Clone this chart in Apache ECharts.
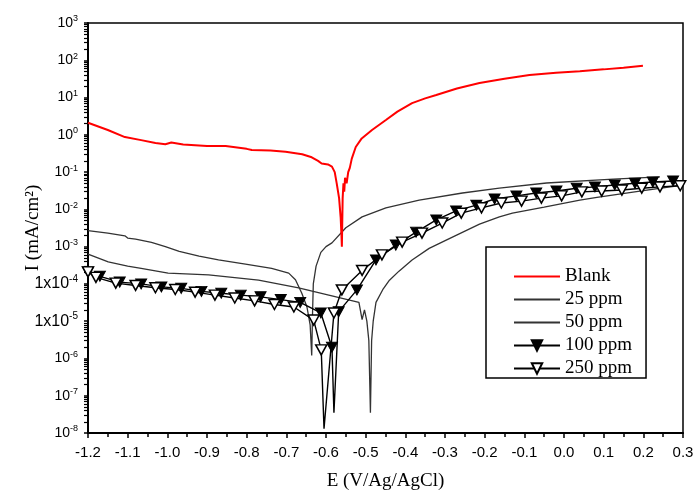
<!DOCTYPE html>
<html>
<head>
<meta charset="utf-8">
<script src="https://cdn.jsdelivr.net/npm/echarts@6/dist/echarts.min.js"></script>
<style>
html,body{margin:0;padding:0;background:#fff;}
#chart{width:695px;height:491px;}
</style>
</head>
<body>
<div id="chart"></div>
<script>
// ---- data (E in V vs Ag/AgCl, I in mA/cm2) ----
const seriesNames = ['Blank', '25 ppm', '50 ppm', '100 ppm', '250 ppm'];
const xTicks = [-1.2, -1.1, -1.0, -0.9, -0.8, -0.7, -0.6, -0.5, -0.4, -0.3, -0.2, -0.1, 0.0, 0.1, 0.2, 0.3];

const blank = [
  [-1.2, 2.1], [-1.15, 1.35], [-1.107, 0.87], [-1.066, 0.72], [-1.03, 0.6], [-1.005, 0.56], [-0.99, 0.62],
  [-0.96, 0.55], [-0.9, 0.5], [-0.853, 0.5], [-0.8, 0.42], [-0.787, 0.39], [-0.74, 0.38], [-0.702, 0.35],
  [-0.66, 0.3], [-0.636, 0.25], [-0.62, 0.2], [-0.611, 0.17], [-0.595, 0.16], [-0.585, 0.14], [-0.578, 0.1],
  [-0.573, 0.05], [-0.567, 0.02], [-0.563, 0.006], [-0.561, 0.002], [-0.56, 0.001], [-0.558, 0.02],
  [-0.556, 0.05], [-0.554, 0.03], [-0.552, 0.07], [-0.548, 0.05], [-0.544, 0.1], [-0.54, 0.13],
  [-0.535, 0.23], [-0.525, 0.47], [-0.51, 0.8], [-0.484, 1.35], [-0.449, 2.5], [-0.42, 4.2], [-0.383, 7.1],
  [-0.35, 9.5], [-0.322, 11.7], [-0.27, 17.5], [-0.213, 24.5], [-0.15, 32], [-0.087, 40], [-0.02, 46],
  [0.04, 51], [0.1, 57], [0.15, 63], [0.199, 71]
];

const ppm25 = [
  [-1.2, 2.7e-3], [-1.15, 2.3e-3], [-1.107, 1.95e-3], [-1.1, 1.7e-3], [-1.08, 1.6e-3], [-1.04, 1.3e-3],
  [-1.005, 1.0e-3], [-0.97, 7.5e-4], [-0.92, 5.6e-4], [-0.871, 4.4e-4], [-0.803, 3.4e-4], [-0.737, 2.6e-4],
  [-0.694, 1.95e-4], [-0.677, 1.3e-4], [-0.661, 5.6e-5], [-0.648, 2.4e-5], [-0.64, 8e-6], [-0.636, 1.2e-6],
  [-0.634, 1.5e-5], [-0.632, 1e-4], [-0.625, 3e-4], [-0.613, 7e-4], [-0.6, 1e-3], [-0.585, 1.26e-3],
  [-0.55, 3.2e-3], [-0.509, 6.3e-3], [-0.449, 1.1e-2], [-0.365, 1.78e-2], [-0.256, 2.75e-2],
  [-0.163, 3.7e-2], [-0.044, 5.1e-2], [0.124, 6.5e-2], [0.242, 7.4e-2]
];

const ppm50 = [
  [-1.2, 6.3e-4], [-1.149, 3.9e-4], [-1.1, 3.0e-4], [-1.066, 2.6e-4], [-0.998, 1.95e-4], [-0.896, 1.74e-4],
  [-0.77, 1.26e-4], [-0.669, 7.8e-5], [-0.593, 5e-5], [-0.517, 3.2e-5], [-0.512, 3e-5], [-0.509, 1.1e-5],
  [-0.503, 2e-5], [-0.497, 1e-5], [-0.492, 3e-6], [-0.488, 3.5e-8], [-0.485, 3e-6], [-0.481, 1e-5],
  [-0.474, 3.2e-5], [-0.457, 7e-5], [-0.44, 1.26e-4], [-0.416, 2.2e-4], [-0.383, 4.4e-4], [-0.34, 9e-4],
  [-0.297, 1.5e-3], [-0.213, 4e-3], [-0.163, 6.3e-3], [-0.13, 7.9e-3], [-0.05, 1.15e-2], [0.04, 1.78e-2],
  [0.083, 2.1e-2], [0.2, 3.2e-2], [0.3, 4.5e-2]
];

const ppm100 = [
  [-1.2, 2.1e-4], [-1.17, 1.6e-4], [-1.12, 1.12e-4], [-1.066, 1.0e-4], [-1.015, 8.3e-5], [-0.965, 7.6e-5],
  [-0.914, 6.3e-5], [-0.864, 5.6e-5], [-0.815, 5e-5], [-0.765, 4.5e-5], [-0.714, 3.8e-5], [-0.665, 3.2e-5],
  [-0.613, 1.66e-5], [-0.585, 2e-6], [-0.58, 3.5e-8], [-0.568, 1.8e-5], [-0.522, 6.9e-5], [-0.474, 4.4e-4],
  [-0.424, 1.1e-3], [-0.373, 2.45e-3], [-0.322, 5.2e-3], [-0.272, 9.1e-3], [-0.221, 1.3e-2], [-0.175, 1.9e-2],
  [-0.12, 2.3e-2], [-0.07, 2.75e-2], [-0.019, 3.1e-2], [0.032, 3.7e-2], [0.078, 4e-2], [0.128, 4.5e-2],
  [0.179, 5e-2], [0.224, 5.4e-2], [0.275, 5.75e-2]
];

const ppm250 = [
  [-1.2, 2.1e-4], [-1.18, 1.5e-4], [-1.13, 1.05e-4], [-1.08, 9.1e-5], [-1.03, 7.9e-5], [-0.98, 7.1e-5],
  [-0.93, 6e-5], [-0.88, 5e-5], [-0.83, 4.2e-5], [-0.78, 3.5e-5], [-0.73, 2.8e-5], [-0.681, 2.4e-5],
  [-0.631, 1.07e-5], [-0.612, 1.7e-6], [-0.605, 1.3e-8], [-0.58, 1.66e-5], [-0.56, 6.9e-5], [-0.509, 2.3e-4],
  [-0.459, 6e-4], [-0.408, 1.32e-3], [-0.358, 2.3e-3], [-0.307, 4.3e-3], [-0.259, 7.9e-3], [-0.208, 1.1e-2],
  [-0.158, 1.48e-2], [-0.107, 1.66e-2], [-0.057, 2e-2], [-0.006, 2.3e-2], [0.045, 2.95e-2], [0.095, 3.1e-2],
  [0.146, 3.3e-2], [0.196, 3.7e-2], [0.242, 4e-2], [0.293, 4.3e-2]
];

// ---- chart ----
const serif = '"Liberation Serif", "Times New Roman", serif';
const sans = '"Liberation Sans", Arial, sans-serif';
const downTri = 'path://M0,0 L10,0 L5,9 Z';

// the deepest point of each spike carries no marker
function withMarkers(arr) {
  return arr.map(p => (p[1] < 1e-7 ? {value: p, symbol: 'none'} : p));
}

function yLabel(v) {
  const e = Math.round(Math.log10(v));
  if (e === -4 || e === -5) return '{bb|1x10}{ss|' + e + '}';
  return '{b|10}{s|' + e + '}';
}

const hidden = {color: 'rgba(0,0,0,0)', borderColor: 'rgba(0,0,0,0)', borderWidth: 0};

const chart = echarts.init(document.getElementById('chart'), null, {renderer: 'canvas'});

chart.setOption({
  animation: false,
  backgroundColor: '#fff',
  grid: {
    left: 88, right: 12, top: 23, bottom: 58,
    outerBoundsMode: 'none', containLabel: false,
    show: true, borderColor: '#000', borderWidth: 1.5, backgroundColor: 'transparent'
  },
  legend: {
    orient: 'vertical',
    left: 486, top: 247,
    padding: [20, 14, 0, 27],
    itemGap: 4,
    itemWidth: 46, itemHeight: 13,
    borderColor: '#000', borderWidth: 1.5,
    backgroundColor: '#fff',
    textStyle: {fontFamily: serif, fontSize: 19, color: '#000'},
    data: [
      {name: seriesNames[0], itemStyle: hidden},
      {name: seriesNames[1], itemStyle: hidden},
      {name: seriesNames[2], itemStyle: hidden},
      {name: seriesNames[3]},
      {name: seriesNames[4]}
    ]
  },
  xAxis: {
    type: 'value',
    min: -1.2, max: 0.3, interval: 0.1,
    name: 'E (V/Ag/AgCl)',
    nameLocation: 'middle', nameGap: 39, nameMoveOverlap: false,
    nameTextStyle: {fontFamily: serif, fontSize: 19, color: '#000'},
    axisLine: {onZero: false, lineStyle: {color: '#000', width: 2}},
    axisTick: {inside: false, length: 5, lineStyle: {color: '#000', width: 1.5}},
    minorTick: {show: true, splitNumber: 2, length: 4, lineStyle: {color: '#000', width: 1.5}},
    splitLine: {show: false},
    axisLabel: {
      margin: 12, fontFamily: sans, fontSize: 15, color: '#000',
      formatter: v => (Math.abs(v) < 1e-9 ? 0 : v).toFixed(1)
    }
  },
  yAxis: {
    type: 'log', logBase: 10,
    min: 1e-8, max: 1e3, interval: 1,
    name: 'I (mA/cm²)',
    nameLocation: 'middle', nameGap: 45, nameMoveOverlap: false,
    nameTextStyle: {fontFamily: serif, fontSize: 19, color: '#000'},
    axisLine: {onZero: false, lineStyle: {color: '#000', width: 2}},
    axisTick: {inside: false, length: 4, lineStyle: {color: '#000', width: 1.5}},
    minorTick: {show: true, splitNumber: 9, length: 4, lineStyle: {color: '#000', width: 1.2}},
    splitLine: {show: false},
    axisLabel: {
      margin: 10, color: '#000',
      formatter: yLabel,
      rich: {
        b: {fontFamily: sans, fontSize: 14, color: '#000'},
        s: {fontFamily: sans, fontSize: 9, color: '#000', padding: [0, 0, 8, 0]},
        bb: {fontFamily: sans, fontSize: 16, color: '#000'},
        ss: {fontFamily: sans, fontSize: 10, color: '#000', padding: [0, 0, 9, 0]}
      }
    }
  },
  series: [
    {
      name: seriesNames[0], type: 'line', data: blank, symbol: 'none',
      lineStyle: {color: '#ff0000', width: 2}, itemStyle: {color: '#ff0000'}, z: 5
    },
    {
      name: seriesNames[1], type: 'line', data: ppm25, symbol: 'none',
      lineStyle: {color: '#333', width: 1.3}, itemStyle: {color: '#000'}
    },
    {
      name: seriesNames[2], type: 'line', data: ppm50, symbol: 'none',
      lineStyle: {color: '#333', width: 1.3}, itemStyle: {color: '#000'}
    },
    {
      name: seriesNames[3], type: 'line', data: withMarkers(ppm100),
      symbol: downTri, symbolSize: [11, 10], showAllSymbol: true,
      lineStyle: {color: '#000', width: 1.4},
      itemStyle: {color: '#000', borderColor: '#000', borderWidth: 1}, z: 3
    },
    {
      name: seriesNames[4], type: 'line', data: withMarkers(ppm250),
      symbol: downTri, symbolSize: [11, 10], showAllSymbol: true,
      lineStyle: {color: '#000', width: 1.4},
      itemStyle: {color: '#fff', borderColor: '#000', borderWidth: 1.5}, z: 4
    }
  ]
});
</script>
</body>
</html>
